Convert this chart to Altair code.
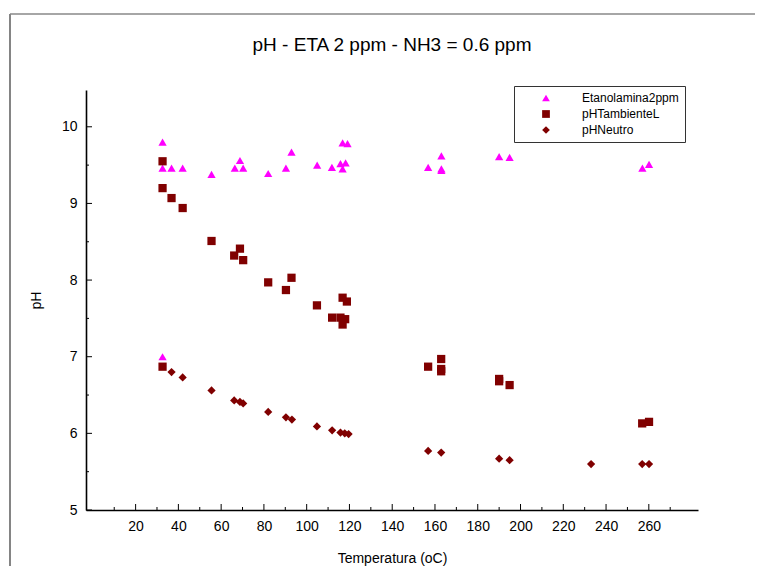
import altair as alt
import pandas as pd

series_names = ["Etanolamina2ppm", "pHTambienteL", "pHNeutro"]

eta_T = [32.6, 32.6, 32.6, 36.8, 42.0, 55.5, 66.4, 68.8, 70.3, 82.0, 90.3, 92.9,
         104.9, 111.8, 115.8, 116.8, 116.8, 118.2, 119.1, 156.8, 163.0, 163.0, 163.0,
         190.0, 194.9, 257.0, 260.1]
eta_pH = [9.80, 9.46, 7.00, 9.46, 9.46, 9.38, 9.46, 9.56, 9.46, 9.39, 9.46, 9.67,
          9.50, 9.47, 9.52, 9.79, 9.45, 9.53, 9.78, 9.47, 9.62, 9.45, 9.43,
          9.61, 9.60, 9.46, 9.51]

amb_T = [32.6, 32.6, 32.6, 36.8, 42.0, 55.5, 66.1, 68.8, 70.3, 82.0, 90.3, 92.9,
         104.8, 111.9, 115.8, 116.8, 116.8, 118.0, 118.8, 156.8, 162.9, 162.9, 162.9,
         190.0, 190.0, 194.9, 256.9, 260.1]
amb_pH = [9.55, 9.20, 6.87, 9.07, 8.94, 8.51, 8.32, 8.41, 8.26, 7.97, 7.87, 8.03,
          7.67, 7.51, 7.51, 7.77, 7.42, 7.49, 7.72, 6.87, 6.97, 6.84, 6.81,
          6.71, 6.68, 6.63, 6.13, 6.15]

neu_T = [36.8, 42.0, 55.5, 66.1, 68.8, 70.3, 82.0, 90.3, 93.1, 104.8, 111.9,
         115.8, 117.8, 119.6, 156.8, 162.9, 190.0, 194.9, 233.0, 256.9, 260.1]
neu_pH = [6.80, 6.73, 6.56, 6.43, 6.41, 6.39, 6.28, 6.21, 6.18, 6.09, 6.04,
          6.01, 6.00, 5.99, 5.77, 5.75, 5.67, 5.65, 5.60, 5.60, 5.60]

x_labels = [20, 40, 60, 80, 100, 120, 140, 160, 180, 200, 220, 240, 260]
x_minor = [10, 30, 50, 70, 90, 110, 130, 150, 170, 190, 210, 230, 250, 270]
y_labels = [5, 6, 7, 8, 9, 10]
y_minor = [5.5, 6.5, 7.5, 8.5, 9.5]

colors = ["#FF00FF", "#800000", "#800000"]
shapes = ["triangle-up", "square", "diamond"]

df = pd.concat([
    pd.DataFrame({"T": eta_T, "pH": eta_pH, "serie": series_names[0]}),
    pd.DataFrame({"T": amb_T, "pH": amb_pH, "serie": series_names[1]}),
    pd.DataFrame({"T": neu_T, "pH": neu_pH, "serie": series_names[2]}),
], ignore_index=True)

W, H = 612, 420
PAD_R = 57
PAD_B = 56
FONT = "Liberation Sans"

xscale = alt.Scale(domain=[-3.2, 283], nice=False, zero=False)
yscale = alt.Scale(domain=[5, 10.48], nice=False, zero=False)

xaxis = alt.Axis(values=x_labels, ticks=False, grid=False, title="Temperatura (oC)",
                 labelPadding=9, titleY=48, titleBaseline="middle", titleX=W / 2)
yaxis = alt.Axis(values=y_labels, ticks=False, grid=False, title="pH",
                 labelPadding=9, titleX=-50, titleY=H / 2, titleAngle=270,
                 titleAlign="center", titleBaseline="middle")

xenc = alt.X("T:Q", scale=xscale, axis=xaxis)
yenc = alt.Y("pH:Q", scale=yscale, axis=yaxis)

legend = alt.Legend(orient="none", legendX=428, legendY=-4, title=None, padding=6,
                    rowPadding=4, symbolOffset=20, labelOffset=30, labelFontSize=12,
                    labelFont=FONT, strokeColor="#333", fillColor="white", symbolSize=60)

points = alt.Chart(df).mark_point(filled=True, opacity=1, size=68).encode(
    x=xenc, y=yenc,
    color=alt.Color("serie:N", scale=alt.Scale(domain=series_names, range=colors), legend=legend),
    shape=alt.Shape("serie:N", scale=alt.Scale(domain=series_names, range=shapes), legend=legend),
)

xt_major = alt.Chart(pd.DataFrame({"T": x_labels})).mark_rule(color="black", strokeWidth=1).encode(
    x=xenc, y=alt.value(H), y2=alt.value(H - 6))
xt_minor = alt.Chart(pd.DataFrame({"T": x_minor})).mark_rule(color="black", strokeWidth=1).encode(
    x=xenc, y=alt.value(H), y2=alt.value(H - 3))
yt_major = alt.Chart(pd.DataFrame({"pH": y_labels})).mark_rule(color="black", strokeWidth=1).encode(
    y=yenc, x=alt.value(0), x2=alt.value(6))
yt_minor = alt.Chart(pd.DataFrame({"pH": y_minor})).mark_rule(color="black", strokeWidth=1).encode(
    y=yenc, x=alt.value(0), x2=alt.value(3))

one = pd.DataFrame({"a": [0]})
border_left = alt.Chart(one).mark_rule(color="#333", strokeWidth=1.2).encode(
    x=alt.value(-76), y=alt.value(-76), y2=alt.value(H + PAD_B))
border_top = alt.Chart(one).mark_rule(color="#888", strokeWidth=1.5).encode(
    y=alt.value(-76), x=alt.value(-76), x2=alt.value(W + PAD_R))

chart = alt.layer(border_left, border_top, xt_major, xt_minor, yt_major, yt_minor, points).properties(
    width=W, height=H,
    title=alt.TitleParams("pH - ETA 2 ppm - NH3 = 0.6 ppm", fontSize=19, font=FONT,
                          fontWeight="normal", offset=-42, anchor="middle", color="black"),
    autosize=alt.AutoSizeParams(type="none"),
    padding={"left": 78, "top": 82, "right": PAD_R, "bottom": PAD_B},
).configure(background="white").configure_view(stroke=None).configure_axis(
    domainColor="black", domainWidth=1.6, labelFont=FONT, labelFontSize=14,
    labelColor="black", titleFont=FONT, titleFontSize=14, titleFontWeight="normal",
    titleColor="black",
)

chart.save("out.html", embed_options={"renderer": "svg", "actions": False})
